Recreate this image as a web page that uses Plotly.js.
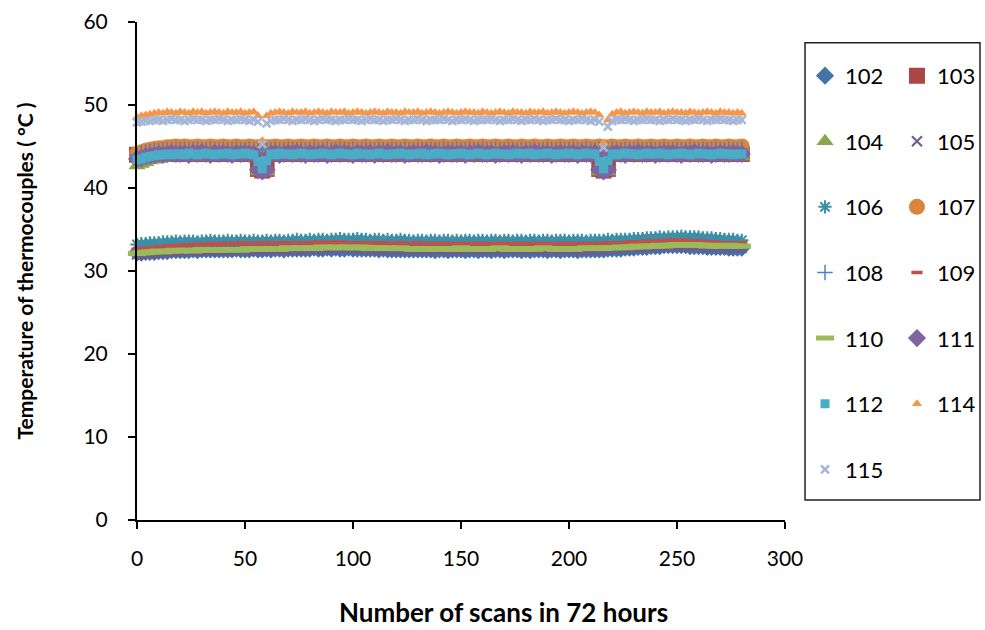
<!DOCTYPE html>
<html>
<head>
<meta charset="utf-8">
<script src="https://cdn.plot.ly/plotly-3.0.1.min.js"></script>
<style>
  html, body { margin: 0; padding: 0; background: #ffffff; }
  #chart { width: 985px; height: 630px; }
</style>
</head>
<body>
<div id="chart"></div>
<script>
// Scan number (x) shared by every thermocouple series
const scans = [
  0,2,4,6,8,10,12,14,16,18,
  20,22,24,26,28,30,32,34,36,38,
  40,42,44,46,48,50,52,54,56,58,
  60,62,64,66,68,70,72,74,76,78,
  80,82,84,86,88,90,92,94,96,98,
  100,102,104,106,108,110,112,114,116,118,
  120,122,124,126,128,130,132,134,136,138,
  140,142,144,146,148,150,152,154,156,158,
  160,162,164,166,168,170,172,174,176,178,
  180,182,184,186,188,190,192,194,196,198,
  200,202,204,206,208,210,212,214,216,218,
  220,222,224,226,228,230,232,234,236,238,
  240,242,244,246,248,250,252,254,256,258,
  260,262,264,266,268,270,272,274,276,278,
  280
];

// Thermocouple names, in drawing order
const tcNames = ['102','103','104','105','106','107','108','109','110','111','112','114','115'];

// Temperatures (°C) per thermocouple
const t102 = [
  32.2,32.2,32.3,32.3,32.3,32.4,32.4,32.4,32.5,32.5,
  32.5,32.5,32.5,32.6,32.5,32.6,32.6,32.6,32.6,32.6,
  32.6,32.6,32.6,32.7,32.6,32.6,32.6,32.7,32.6,32.6,
  32.7,32.6,32.7,32.7,32.6,32.7,32.7,32.7,32.7,32.7,
  32.7,32.8,32.7,32.7,32.8,32.7,32.8,32.7,32.7,32.8,
  32.7,32.7,32.7,32.7,32.7,32.7,32.6,32.7,32.6,32.6,
  32.6,32.6,32.6,32.6,32.6,32.6,32.6,32.6,32.6,32.5,
  32.6,32.6,32.5,32.6,32.6,32.6,32.5,32.6,32.6,32.5,
  32.6,32.6,32.5,32.6,32.6,32.5,32.6,32.6,32.6,32.5,
  32.6,32.5,32.6,32.6,32.6,32.5,32.6,32.6,32.5,32.6,
  32.6,32.6,32.5,32.6,32.6,32.6,32.6,32.6,32.6,32.7,
  32.7,32.7,32.7,32.8,32.8,32.8,32.9,32.9,32.9,33.0,
  33.0,33.0,33.1,33.1,33.1,33.1,33.1,33.1,33.0,33.0,
  33.0,33.0,32.9,32.9,32.9,32.9,32.9,32.8,32.8,32.8,
  32.8
];
const t103 = [
  44.0,44.0,44.1,44.1,44.1,44.2,44.1,44.1,44.2,44.1,
  44.1,44.2,44.1,44.1,44.2,44.1,44.1,44.2,44.1,44.1,
  44.2,44.1,44.1,44.2,44.1,44.1,44.2,44.1,42.3,42.1,
  42.3,44.1,44.2,44.1,44.1,44.2,44.1,44.1,44.2,44.1,
  44.1,44.2,44.1,44.1,44.2,44.1,44.1,44.2,44.1,44.1,
  44.2,44.1,44.1,44.2,44.1,44.1,44.2,44.1,44.1,44.2,
  44.1,44.1,44.2,44.1,44.1,44.2,44.1,44.1,44.2,44.1,
  44.1,44.2,44.1,44.1,44.2,44.1,44.1,44.2,44.1,44.1,
  44.2,44.1,44.1,44.2,44.1,44.1,44.2,44.1,44.1,44.2,
  44.1,44.1,44.2,44.1,44.1,44.2,44.1,44.1,44.2,44.1,
  44.1,44.2,44.1,44.1,44.2,44.1,44.1,42.3,42.1,42.3,
  44.1,44.2,44.1,44.1,44.2,44.1,44.1,44.2,44.1,44.1,
  44.2,44.1,44.1,44.2,44.1,44.1,44.2,44.1,44.1,44.2,
  44.1,44.1,44.2,44.1,44.1,44.2,44.1,44.1,44.2,44.1,
  44.1
];
const t104 = [
  42.7,42.9,43.1,43.3,43.4,43.5,43.6,43.7,43.7,43.8,
  43.8,43.9,43.8,43.8,43.9,43.8,43.8,43.9,43.8,43.8,
  43.9,43.8,43.8,43.9,43.8,43.8,43.9,43.8,42.0,41.9,
  42.0,43.8,43.9,43.8,43.8,43.9,43.8,43.8,43.9,43.8,
  43.8,43.9,43.8,43.8,43.9,43.8,43.8,43.9,43.8,43.8,
  43.9,43.8,43.8,43.9,43.8,43.8,43.9,43.8,43.8,43.9,
  43.8,43.8,43.9,43.8,43.8,43.9,43.8,43.8,43.9,43.8,
  43.8,43.9,43.8,43.8,43.9,43.8,43.8,43.9,43.8,43.8,
  43.9,43.8,43.8,43.9,43.8,43.8,43.9,43.8,43.8,43.9,
  43.8,43.8,43.9,43.8,43.8,43.9,43.8,43.8,43.9,43.8,
  43.8,43.9,43.8,43.8,43.9,43.8,43.8,42.0,41.9,42.0,
  43.8,43.9,43.8,43.8,43.9,43.8,43.8,43.9,43.8,43.8,
  43.9,43.8,43.8,43.9,43.8,43.8,43.9,43.8,43.8,43.9,
  43.8,43.8,43.9,43.8,43.8,43.9,43.8,43.8,43.9,43.8,
  43.8
];
const t105 = [
  32.0,32.0,32.1,32.1,32.2,32.2,32.2,32.3,32.3,32.3,
  32.3,32.4,32.4,32.4,32.4,32.4,32.5,32.4,32.5,32.5,
  32.5,32.5,32.5,32.5,32.5,32.6,32.5,32.5,32.6,32.5,
  32.6,32.6,32.5,32.6,32.6,32.6,32.6,32.7,32.6,32.6,
  32.7,32.6,32.7,32.7,32.7,32.7,32.7,32.7,32.7,32.7,
  32.7,32.7,32.7,32.7,32.6,32.7,32.6,32.6,32.6,32.6,
  32.6,32.6,32.6,32.6,32.6,32.6,32.6,32.5,32.6,32.6,
  32.5,32.6,32.6,32.5,32.6,32.6,32.6,32.5,32.6,32.6,
  32.6,32.5,32.6,32.6,32.6,32.5,32.6,32.6,32.5,32.6,
  32.6,32.6,32.5,32.6,32.6,32.6,32.5,32.6,32.6,32.6,
  32.6,32.5,32.6,32.6,32.6,32.6,32.6,32.6,32.6,32.7,
  32.7,32.7,32.7,32.7,32.8,32.8,32.8,32.8,32.9,32.9,
  32.9,32.9,33.0,33.0,33.0,33.0,33.0,33.0,33.0,33.0,
  33.0,32.9,32.9,32.9,32.9,32.9,32.8,32.8,32.8,32.8,
  32.8
];
const t106 = [
  33.2,33.3,33.3,33.4,33.4,33.4,33.5,33.5,33.5,33.6,
  33.5,33.6,33.6,33.6,33.5,33.6,33.6,33.7,33.6,33.6,
  33.6,33.7,33.6,33.6,33.7,33.6,33.6,33.7,33.6,33.6,
  33.7,33.6,33.7,33.7,33.6,33.7,33.7,33.8,33.7,33.7,
  33.8,33.7,33.8,33.8,33.7,33.8,33.8,33.9,33.8,33.8,
  33.8,33.9,33.8,33.8,33.7,33.8,33.8,33.7,33.8,33.7,
  33.7,33.8,33.7,33.7,33.6,33.7,33.7,33.6,33.7,33.7,
  33.6,33.7,33.7,33.6,33.7,33.6,33.7,33.7,33.6,33.7,
  33.7,33.6,33.7,33.7,33.6,33.7,33.7,33.6,33.7,33.7,
  33.6,33.7,33.7,33.6,33.7,33.7,33.6,33.7,33.7,33.7,
  33.6,33.7,33.7,33.7,33.6,33.7,33.7,33.7,33.7,33.8,
  33.7,33.8,33.8,33.8,33.8,33.9,33.9,33.9,34.0,34.0,
  34.0,34.1,34.0,34.1,34.1,34.1,34.2,34.1,34.1,34.1,
  34.1,34.0,34.0,34.0,33.9,33.9,33.8,33.8,33.8,33.7,
  33.7
];
const t107 = [
  44.1,44.3,44.5,44.6,44.7,44.8,44.8,44.9,44.9,45.0,
  44.9,45.0,44.9,44.9,45.0,44.9,44.9,45.0,44.9,44.9,
  45.0,44.9,44.9,45.0,44.9,44.9,45.0,44.9,44.9,45.0,
  44.9,44.9,45.0,44.9,44.9,45.0,44.9,44.9,45.0,44.9,
  44.9,45.0,44.9,44.9,45.0,44.9,44.9,45.0,44.9,44.9,
  45.0,44.9,44.9,45.0,44.9,44.9,45.0,44.9,44.9,45.0,
  44.9,44.9,45.0,44.9,44.9,45.0,44.9,44.9,45.0,44.9,
  44.9,45.0,44.9,44.9,45.0,44.9,44.9,45.0,44.9,44.9,
  45.0,44.9,44.9,45.0,44.9,44.9,45.0,44.9,44.9,45.0,
  44.9,44.9,45.0,44.9,44.9,45.0,44.9,44.9,45.0,44.9,
  44.9,45.0,44.9,44.9,45.0,44.9,44.9,45.0,44.9,44.9,
  45.0,44.9,44.9,45.0,44.9,44.9,45.0,44.9,44.9,45.0,
  44.9,44.9,45.0,44.9,44.9,45.0,44.9,44.9,45.0,44.9,
  44.9,45.0,44.9,44.9,45.0,44.9,44.9,45.0,44.9,44.9,
  45.0
];
const t108 = [
  44.0,44.2,44.3,44.4,44.5,44.5,44.6,44.6,44.6,44.7,
  44.6,44.7,44.6,44.6,44.7,44.6,44.6,44.7,44.6,44.6,
  44.7,44.6,44.6,44.7,44.6,44.6,44.7,44.6,44.6,44.7,
  44.6,44.6,44.7,44.6,44.6,44.7,44.6,44.6,44.7,44.6,
  44.6,44.7,44.6,44.6,44.7,44.6,44.6,44.7,44.6,44.6,
  44.7,44.6,44.6,44.7,44.6,44.6,44.7,44.6,44.6,44.7,
  44.6,44.6,44.7,44.6,44.6,44.7,44.6,44.6,44.7,44.6,
  44.6,44.7,44.6,44.6,44.7,44.6,44.6,44.7,44.6,44.6,
  44.7,44.6,44.6,44.7,44.6,44.6,44.7,44.6,44.6,44.7,
  44.6,44.6,44.7,44.6,44.6,44.7,44.6,44.6,44.7,44.6,
  44.6,44.7,44.6,44.6,44.7,44.6,44.6,44.7,44.6,44.6,
  44.7,44.6,44.6,44.7,44.6,44.6,44.7,44.6,44.6,44.7,
  44.6,44.6,44.7,44.6,44.6,44.7,44.6,44.6,44.7,44.6,
  44.6,44.7,44.6,44.6,44.7,44.6,44.6,44.7,44.6,44.6,
  44.7
];
const t109 = [
  32.6,32.7,32.7,32.8,32.8,32.9,32.9,33.0,33.0,33.0,
  33.1,33.1,33.1,33.2,33.2,33.2,33.2,33.3,33.2,33.3,
  33.3,33.3,33.3,33.3,33.4,33.3,33.3,33.3,33.4,33.3,
  33.3,33.4,33.3,33.4,33.4,33.3,33.4,33.4,33.4,33.4,
  33.4,33.4,33.5,33.4,33.4,33.5,33.4,33.5,33.4,33.4,
  33.4,33.4,33.4,33.4,33.3,33.4,33.4,33.3,33.4,33.3,
  33.3,33.4,33.3,33.3,33.3,33.4,33.3,33.3,33.3,33.3,
  33.3,33.3,33.3,33.3,33.3,33.3,33.3,33.3,33.3,33.3,
  33.3,33.3,33.2,33.3,33.3,33.3,33.2,33.3,33.3,33.3,
  33.3,33.2,33.3,33.3,33.3,33.3,33.2,33.3,33.3,33.3,
  33.3,33.3,33.3,33.3,33.3,33.3,33.3,33.3,33.3,33.4,
  33.4,33.4,33.4,33.4,33.5,33.5,33.5,33.5,33.6,33.6,
  33.6,33.6,33.6,33.7,33.7,33.7,33.7,33.7,33.6,33.6,
  33.6,33.6,33.5,33.5,33.5,33.4,33.4,33.4,33.4,33.4,
  33.4
];
const t110 = [
  32.1,32.2,32.2,32.3,32.3,32.4,32.3,32.4,32.4,32.5,
  32.4,32.5,32.5,32.4,32.5,32.6,32.5,32.5,32.6,32.5,
  32.6,32.5,32.6,32.6,32.5,32.6,32.7,32.6,32.6,32.7,
  32.6,32.7,32.7,32.6,32.7,32.8,32.7,32.7,32.8,32.7,
  32.8,32.7,32.8,32.9,32.8,32.8,32.9,32.8,32.8,32.9,
  32.8,32.8,32.9,32.8,32.7,32.8,32.8,32.7,32.8,32.7,
  32.7,32.8,32.7,32.7,32.6,32.7,32.7,32.6,32.7,32.7,
  32.6,32.7,32.7,32.6,32.7,32.8,32.7,32.6,32.7,32.7,
  32.7,32.6,32.7,32.7,32.8,32.7,32.6,32.7,32.7,32.6,
  32.7,32.7,32.6,32.7,32.8,32.7,32.7,32.6,32.7,32.7,
  32.7,32.6,32.7,32.7,32.8,32.7,32.7,32.8,32.7,32.8,
  32.8,32.8,32.9,32.8,32.9,32.9,33.0,32.9,33.0,33.0,
  33.0,33.1,33.0,33.1,33.1,33.2,33.1,33.1,33.1,33.2,
  33.1,33.1,33.0,33.1,33.0,33.0,33.0,33.1,33.0,33.0,
  33.0
];
const t111 = [
  43.5,43.6,43.8,43.9,44.0,44.1,44.0,44.1,44.2,44.1,
  44.1,44.2,44.0,44.2,44.1,44.3,44.1,44.0,44.2,44.1,
  44.2,44.1,44.0,44.2,44.1,44.2,44.1,44.1,42.2,42.0,
  42.2,44.1,44.2,44.0,44.1,44.2,44.1,44.3,44.1,44.0,
  44.2,44.1,44.1,44.2,44.0,44.1,44.3,44.1,44.2,44.1,
  44.0,44.2,44.1,44.1,44.2,44.0,44.2,44.1,44.3,44.1,
  44.1,44.2,44.0,44.1,44.2,44.1,44.1,44.3,44.1,44.2,
  44.0,44.1,44.2,44.1,44.1,44.2,44.0,44.2,44.1,44.3,
  44.1,44.1,44.2,44.0,44.1,44.2,44.1,44.2,44.1,44.0,
  44.2,44.1,44.3,44.1,44.1,44.2,44.0,44.1,44.2,44.1,
  44.1,44.2,44.0,44.2,44.1,44.1,44.2,42.2,42.0,42.2,
  44.1,44.2,44.1,44.0,44.2,44.1,44.3,44.1,44.1,44.2,
  44.0,44.1,44.2,44.1,44.2,44.1,44.0,44.2,44.1,44.3,
  44.1,44.1,44.2,44.0,44.1,44.2,44.1,44.1,44.2,44.1,
  44.1
];
const t112 = [
  43.4,43.5,43.7,43.8,43.9,44.0,44.0,44.1,44.0,44.1,
  44.1,44.0,44.2,44.1,44.0,44.1,44.2,44.1,44.0,44.1,
  44.1,44.2,44.0,44.1,44.1,44.2,44.1,44.0,43.2,42.3,
  43.3,44.1,44.0,44.2,44.1,44.1,44.0,44.1,44.2,44.1,
  44.0,44.1,44.1,44.2,44.1,44.0,44.1,44.2,44.1,44.1,
  44.0,44.2,44.1,44.1,44.0,44.1,44.2,44.1,44.0,44.1,
  44.1,44.2,44.1,44.0,44.1,44.1,44.2,44.0,44.1,44.1,
  44.2,44.1,44.0,44.1,44.1,44.2,44.1,44.0,44.1,44.2,
  44.1,44.0,44.1,44.2,44.1,44.1,44.0,44.1,44.2,44.1,
  44.1,44.2,44.0,44.1,44.1,44.2,44.1,44.0,44.1,44.1,
  44.2,44.1,44.0,44.1,44.2,44.1,44.1,43.2,42.3,43.3,
  44.1,44.0,44.1,44.2,44.1,44.1,44.0,44.1,44.2,44.1,
  44.1,44.2,44.1,44.0,44.1,44.1,44.2,44.1,44.0,44.1,
  44.2,44.1,44.1,44.0,44.1,44.2,44.1,44.1,44.0,44.1,
  44.1
];
const t114 = [
  48.5,48.7,48.8,48.9,49.0,49.1,49.0,49.2,49.1,49.0,
  49.2,49.1,49.0,49.2,49.1,49.2,49.0,49.1,49.2,49.1,
  49.0,49.2,49.1,49.1,49.2,49.0,49.1,49.2,48.7,45.7,
  48.7,49.0,49.1,49.2,49.1,49.0,49.2,49.1,49.1,49.2,
  49.0,49.1,49.2,49.1,49.0,49.2,49.1,49.1,49.2,49.0,
  49.1,49.2,49.1,49.0,49.1,49.2,49.1,49.0,49.2,49.1,
  49.1,49.0,49.2,49.1,49.1,49.2,49.0,49.1,49.2,49.1,
  49.0,49.1,49.2,49.1,49.0,49.1,49.2,49.1,49.1,49.0,
  49.2,49.1,49.0,49.1,49.2,49.1,49.0,49.2,49.1,49.1,
  49.0,49.2,49.1,49.1,49.2,49.0,49.1,49.2,49.1,49.0,
  49.1,49.2,49.1,49.0,49.1,49.2,49.1,48.8,45.4,48.2,
  48.9,49.1,49.2,49.0,49.1,49.2,49.1,49.0,49.2,49.1,
  49.1,49.2,49.0,49.1,49.2,49.1,49.1,49.0,49.2,49.1,
  49.0,49.1,49.2,49.1,49.0,49.2,49.1,49.1,49.0,49.1,
  49.0
];
const t115 = [
  47.9,48.0,48.1,48.1,48.2,48.2,48.1,48.2,48.3,48.2,
  48.2,48.1,48.2,48.3,48.2,48.2,48.1,48.2,48.2,48.3,
  48.2,48.1,48.2,48.2,48.3,48.2,48.1,48.2,48.0,45.3,
  47.8,48.1,48.2,48.2,48.3,48.2,48.1,48.2,48.2,48.3,
  48.2,48.1,48.2,48.3,48.2,48.2,48.1,48.2,48.2,48.3,
  48.2,48.2,48.1,48.2,48.3,48.2,48.2,48.1,48.2,48.2,
  48.3,48.2,48.1,48.2,48.2,48.3,48.2,48.1,48.2,48.2,
  48.2,48.3,48.2,48.1,48.2,48.2,48.3,48.2,48.1,48.2,
  48.2,48.2,48.3,48.2,48.1,48.2,48.2,48.3,48.2,48.1,
  48.2,48.2,48.3,48.2,48.1,48.2,48.2,48.3,48.2,48.2,
  48.1,48.2,48.2,48.3,48.2,48.1,48.2,48.0,44.9,47.4,
  48.1,48.2,48.2,48.3,48.2,48.1,48.2,48.2,48.3,48.2,
  48.2,48.1,48.2,48.2,48.3,48.2,48.2,48.1,48.2,48.2,
  48.3,48.2,48.1,48.2,48.2,48.3,48.2,48.2,48.1,48.2,
  48.2
];

const tcValues = {
  '102': t102, '103': t103, '104': t104, '105': t105, '106': t106,
  '107': t107, '108': t108, '109': t109, '110': t110, '111': t111,
  '112': t112, '114': t114, '115': t115
};

// Marker look of each series (symbol, size, colour, stroke for line-type symbols)
const markerLook = {
  '102': { symbol: 'diamond',     size: 14, color: '#4572A7', lw: 0 },
  '103': { symbol: 'square',      size: 16, color: '#AA4643', lw: 0 },
  '104': { symbol: 'triangle-up', size: 15, color: '#89A54E', lw: 0 },
  '105': { symbol: 'x-thin',      size: 10, color: '#71588F', lw: 2 },
  '106': { symbol: 'asterisk',    size: 11, color: '#3D8FA6', lw: 2 },
  '107': { symbol: 'circle',      size: 16, color: '#DB843D', lw: 0 },
  '108': { symbol: 'cross-thin',  size: 11, color: '#4F81BD', lw: 1.5 },
  '109': { symbol: 'line-ew',     size: 8,  color: '#C0504D', lw: 3.5 },
  '110': { symbol: 'line-ew',     size: 13, color: '#9BBB59', lw: 5 },
  '111': { symbol: 'diamond',     size: 14, color: '#8064A2', lw: 0 },
  '112': { symbol: 'square',      size: 9,  color: '#4BACC6', lw: 0 },
  '114': { symbol: 'triangle-up', size: 9,  color: '#F79646', lw: 0 },
  '115': { symbol: 'x-thin',      size: 8,  color: '#A5B6D6', lw: 2.5 }
};

// Two-column legend: left column holds the 1st, 3rd, 5th ... names
const leftColumn = ['102','104','106','108','110','112','115'];

const traces = tcNames.map(name => {
  const m = markerLook[name];
  return {
    type: 'scatter',
    mode: 'markers',
    name: name,
    x: scans,
    y: tcValues[name],
    cliponaxis: false,
    legend: leftColumn.includes(name) ? 'legend' : 'legend2',
    legendgroup: 'g' + name,
    marker: {
      symbol: m.symbol,
      size: m.size,
      color: m.color,
      opacity: 1,
      line: { width: m.lw, color: m.color }
    },
    hoverinfo: 'x+y+name'
  };
});

const FONT = 'Lato, "Open Sans", "Liberation Sans", sans-serif';

const axisBase = {
  showgrid: false,
  zeroline: false,
  showline: true,
  linecolor: '#000000',
  linewidth: 2,
  ticks: 'outside',
  ticklen: 7,
  tickwidth: 1.5,
  tickcolor: '#000000',
  tickfont: { family: FONT, size: 21, color: '#000000' },
  automargin: false,
  fixedrange: true
};

const legendBase = {
  xanchor: 'left',
  yanchor: 'top',
  bgcolor: 'rgba(0,0,0,0)',
  borderwidth: 0,
  font: { family: FONT, size: 22, color: '#000000' },
  tracegroupgap: 34,
  itemwidth: 30,
  traceorder: 'grouped',
  orientation: 'v'
};

const layout = {
  width: 985,
  height: 630,
  margin: { l: 137, r: 200, t: 22, b: 110, pad: 0, autoexpand: false },
  paper_bgcolor: '#ffffff',
  plot_bgcolor: '#ffffff',
  font: { family: FONT, color: '#000000' },
  showlegend: true,
  xaxis: Object.assign({}, axisBase, {
    range: [0, 300],
    tick0: 0,
    dtick: 50,
    ticklabelstandoff: 12
  }),
  yaxis: Object.assign({}, axisBase, {
    range: [0, 60],
    tick0: 0,
    dtick: 10,
    ticklabelstandoff: 16,
    title: {
      text: '<b>Temperature of thermocouples ( °C )</b>',
      font: { family: FONT, size: 21, color: '#000000' },
      standoff: 44
    }
  }),
  // x-axis title sits right of the plot centre, under the chart area
  annotations: [{
    text: '<b>Number of scans in 72 hours</b>',
    xref: 'paper', yref: 'paper',
    x: 0.565, y: -0.185,
    xanchor: 'center', yanchor: 'middle',
    showarrow: false,
    font: { family: FONT, size: 26, color: '#000000' }
  }],
  legend: Object.assign({}, legendBase, { x: 1.0309, y: 0.934 }),
  legend2: Object.assign({}, legendBase, { x: 1.1728, y: 0.934 }),
  shapes: [{
    type: 'rect',
    xref: 'paper', yref: 'paper',
    x0: 1.0309, x1: 1.3009,
    y0: 0.0402, y1: 0.9584,
    line: { color: '#222222', width: 1.5 },
    fillcolor: 'rgba(0,0,0,0)',
    layer: 'above'
  }]
};

Plotly.newPlot('chart', traces, layout, { displayModeBar: false, staticPlot: true });
</script>
</body>
</html>
